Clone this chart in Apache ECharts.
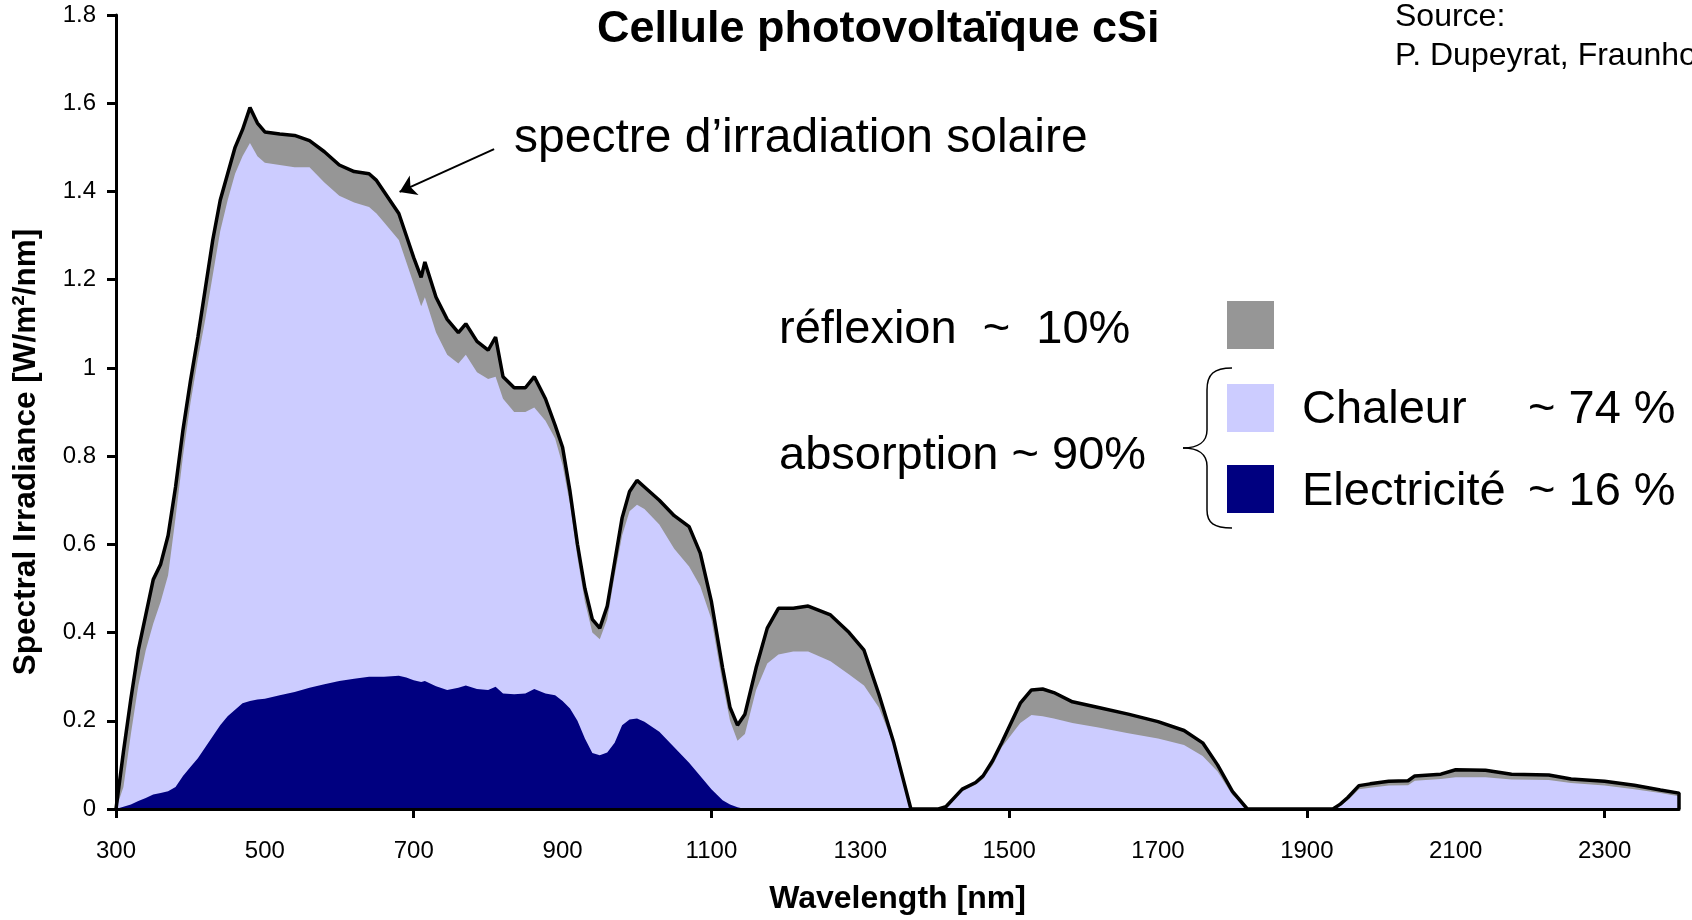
<!DOCTYPE html>
<html>
<head>
<meta charset="utf-8">
<script src="https://cdn.jsdelivr.net/npm/echarts@6/dist/echarts.min.js"></script>
<style>
  html, body { margin: 0; padding: 0; background: #fff; }
  #main { width: 1692px; height: 920px; }
</style>
</head>
<body>
<div id="main"></div>
<script>
// wavelength [nm] and irradiance values [W/m²/nm]
const wavelength = [
  300, 310, 320, 330, 340, 350, 360, 370, 380, 390, 400, 410, 420, 430, 440, 450, 460, 470, 480, 490, 500,
  520, 540, 560, 580, 600, 620, 640,
  650, 660, 680, 690, 700, 710, 715,
  730, 745, 760, 770, 785, 800, 810, 820, 835, 850, 862, 877, 890,
  900, 910, 920, 930, 940, 950, 960, 970, 980, 990, 1000,
  1010, 1030, 1050, 1070, 1085, 1100, 1115, 1125, 1135, 1145,
  1160, 1175, 1190, 1210, 1230, 1260, 1285, 1305, 1325, 1345, 1368,
  1405, 1415, 1437, 1455, 1465, 1478, 1490, 1515, 1530, 1545, 1560, 1585, 1620, 1660, 1700,
  1735, 1760, 1780, 1800, 1820,
  1935, 1945, 1955, 1970, 1985, 2010, 2036, 2045, 2080, 2100, 2140, 2175, 2225, 2255, 2300, 2340, 2375, 2400, 2400
];
// full solar spectrum (black outline)
const solarTotal = [
  0, 0.13, 0.25, 0.36, 0.44, 0.52, 0.555, 0.62, 0.73, 0.86, 0.97, 1.07, 1.18, 1.29, 1.38, 1.44, 1.50, 1.54, 1.59, 1.555, 1.535,
  1.53, 1.527, 1.515, 1.49, 1.46, 1.445, 1.44,
  1.425, 1.40, 1.35, 1.30, 1.25, 1.205, 1.24,
  1.16, 1.11, 1.08, 1.10, 1.06, 1.04, 1.07, 0.98, 0.955, 0.955, 0.98, 0.93, 0.87,
  0.82, 0.72, 0.60, 0.50, 0.43, 0.41, 0.46, 0.56, 0.66, 0.72, 0.745,
  0.73, 0.70, 0.665, 0.64, 0.58, 0.47, 0.32, 0.23, 0.19, 0.215,
  0.32, 0.41, 0.455, 0.455, 0.46, 0.44, 0.40, 0.36, 0.26, 0.15, 0,
  0, 0.005, 0.045, 0.06, 0.075, 0.11, 0.15, 0.24, 0.27, 0.272, 0.264, 0.243, 0.23, 0.215, 0.198,
  0.178, 0.15, 0.10, 0.04, 0,
  0, 0.011, 0.026, 0.053, 0.057, 0.063, 0.064, 0.075, 0.079, 0.089, 0.088, 0.079, 0.077, 0.068, 0.063, 0.054, 0.043, 0.036, 0
];
// absorbed part (top of lavender = chaleur + electricité)
const absorbed = [
  0, 0.05, 0.17, 0.28, 0.36, 0.42, 0.47, 0.53, 0.66, 0.80, 0.92, 1.02, 1.11, 1.21, 1.31, 1.38, 1.44, 1.48, 1.51, 1.48, 1.465,
  1.46, 1.455, 1.455, 1.42, 1.39, 1.375, 1.365,
  1.35, 1.33, 1.29, 1.24, 1.19, 1.14, 1.16,
  1.08, 1.03, 1.01, 1.03, 0.99, 0.975, 0.98, 0.93, 0.90, 0.90, 0.91, 0.88, 0.84,
  0.78, 0.69, 0.57, 0.47, 0.40, 0.385, 0.43, 0.53, 0.62, 0.675, 0.69,
  0.68, 0.645, 0.59, 0.55, 0.505, 0.43, 0.285, 0.20, 0.155, 0.17,
  0.27, 0.33, 0.35, 0.357, 0.357, 0.335, 0.305, 0.28, 0.23, 0.145, 0,
  0, 0.004, 0.04, 0.055, 0.068, 0.10, 0.14, 0.195, 0.213, 0.21, 0.205, 0.195, 0.185, 0.172, 0.16,
  0.145, 0.12, 0.085, 0.032, 0,
  0, 0.008, 0.02, 0.045, 0.048, 0.053, 0.054, 0.064, 0.068, 0.072, 0.072, 0.067, 0.066, 0.059, 0.053, 0.045, 0.036, 0.029, 0
];
// electricity (navy)
const electricity = [
  0, 0.005, 0.01, 0.018, 0.025, 0.033, 0.036, 0.04, 0.05, 0.075, 0.095, 0.115, 0.14, 0.165, 0.19, 0.21, 0.225, 0.24, 0.245, 0.248, 0.25,
  0.258, 0.265, 0.275, 0.283, 0.29, 0.295, 0.30,
  0.30, 0.30, 0.302, 0.298, 0.292, 0.288, 0.29,
  0.278, 0.27, 0.275, 0.28, 0.272, 0.27, 0.277, 0.262, 0.26, 0.262, 0.272, 0.262, 0.258,
  0.245, 0.228, 0.20, 0.16, 0.127, 0.122, 0.128, 0.15, 0.19, 0.203, 0.205,
  0.198, 0.175, 0.14, 0.105, 0.075, 0.045, 0.02, 0.01, 0.004, 0,
  0, 0, 0, 0, 0, 0, 0, 0, 0, 0, 0,
  0, 0, 0, 0, 0, 0, 0, 0, 0, 0, 0, 0, 0, 0, 0,
  0, 0, 0, 0, 0,
  0, 0, 0, 0, 0, 0, 0, 0, 0, 0, 0, 0, 0, 0, 0, 0, 0, 0, 0
];
const xLabelValues = [300, 500, 700, 900, 1100, 1300, 1500, 1700, 1900, 2100, 2300];
const xTickValues = [300, 700, 1100, 1500, 1900, 2300];
// arrow of the "spectre d'irradiation solaire" note, in data units
const arrowFrom = [808, 1.496];
const arrowTo = [681, 1.399];

const FONT = 'Liberation Sans, Arial, Helvetica, sans-serif';

const pairs = vals => wavelength.map((w, i) => [w, vals[i]]);

const chart = echarts.init(document.getElementById('main'));

const noteText = (text, x, y, size) => ({
  type: 'text', x: x, y: y, silent: true,
  style: { text: text, fontSize: size, fontFamily: FONT, fill: '#000', verticalAlign: 'middle' }
});

// curly brace in front of Chaleur / Electricité
const braceStyle = { fill: null, stroke: '#000', lineWidth: 1.5 };
const brace = [
  { type: 'bezierCurve', shape: { x1: 1232, y1: 368, cpx1: 1214, cpy1: 368, cpx2: 1207, cpy2: 374, x2: 1207, y2: 390 }, style: braceStyle },
  { type: 'line', shape: { x1: 1207, y1: 390, x2: 1207, y2: 430 }, style: braceStyle },
  { type: 'bezierCurve', shape: { x1: 1207, y1: 430, cpx1: 1207, cpy1: 442, cpx2: 1198, cpy2: 448, x2: 1183, y2: 448 }, style: braceStyle },
  { type: 'bezierCurve', shape: { x1: 1183, y1: 448, cpx1: 1198, cpy1: 448, cpx2: 1207, cpy2: 454, x2: 1207, y2: 466 }, style: braceStyle },
  { type: 'line', shape: { x1: 1207, y1: 466, x2: 1207, y2: 510 }, style: braceStyle },
  { type: 'bezierCurve', shape: { x1: 1207, y1: 510, cpx1: 1207, cpy1: 523, cpx2: 1214, cpy2: 528, x2: 1232, y2: 528 }, style: braceStyle }
];

const option = {
  animation: false,
  backgroundColor: '#fff',
  title: {
    text: 'Cellule photovoltaïque cSi',
    left: 597, top: 7, padding: 0,
    textStyle: { fontSize: 45, fontWeight: 'bold', fontFamily: FONT, color: '#000' }
  },
  grid: { left: 116, right: 13, top: 15, bottom: 110 },
  xAxis: {
    type: 'value', min: 300, max: 2400, z: 5,
    name: 'Wavelength [nm]', nameLocation: 'middle', nameGap: 74,
    nameTextStyle: { fontSize: 32, fontWeight: 'bold', fontFamily: FONT, color: '#000' },
    axisLine: { lineStyle: { color: '#000', width: 3 } },
    axisTick: { customValues: xTickValues, length: 9, lineStyle: { color: '#000', width: 3 } },
    axisLabel: {
      customValues: xLabelValues, fontSize: 24, fontFamily: FONT, color: '#000', margin: 30,
      formatter: v => String(v)
    },
    splitLine: { show: false }
  },
  yAxis: {
    type: 'value', min: 0, max: 1.8, interval: 0.2, z: 5,
    name: 'Spectral Irradiance [W/m²/nm]', nameLocation: 'middle', nameGap: 74,
    nameTextStyle: { fontSize: 31.5, fontWeight: 'bold', fontFamily: FONT, color: '#000', padding: [0, 80, 0, 0] },
    axisLine: { show: true, lineStyle: { color: '#000', width: 3 } },
    axisTick: { show: true, length: 9, lineStyle: { color: '#000', width: 3 } },
    axisLabel: { fontSize: 24, fontFamily: FONT, color: '#000', margin: 20 },
    splitLine: { show: false }
  },
  series: [
    {
      name: 'réflexion', type: 'line', data: pairs(solarTotal), showSymbol: false, silent: true,
      lineStyle: { width: 0 }, areaStyle: { color: '#969696', opacity: 1 }
    },
    {
      name: 'Chaleur', type: 'line', data: pairs(absorbed), showSymbol: false, silent: true,
      lineStyle: { width: 0 }, areaStyle: { color: '#ccccff', opacity: 1 }
    },
    {
      name: 'Electricité', type: 'line', data: pairs(electricity), showSymbol: false, silent: true,
      lineStyle: { width: 0 }, areaStyle: { color: '#000080', opacity: 1 }
    },
    {
      name: 'spectre', type: 'line', data: pairs(solarTotal), showSymbol: false, silent: true,
      lineStyle: { color: '#000', width: 3.5 },
      markLine: {
        silent: true, symbol: ['none', 'arrow'], symbolSize: 16,
        label: { show: false },
        lineStyle: { color: '#000', width: 2, type: 'solid' },
        data: [[{ coord: arrowFrom }, { coord: arrowTo }]]
      }
    }
  ],
  graphic: [
    noteText('spectre d’irradiation solaire', 514, 139, 48),
    noteText('réflexion  ~  10%', 779, 330, 47),
    noteText('absorption ~ 90%', 779, 456, 47),
    { type: 'rect', shape: { x: 1227, y: 301, width: 47, height: 48 }, style: { fill: '#969696' } },
    { type: 'rect', shape: { x: 1227, y: 384, width: 47, height: 48 }, style: { fill: '#ccccff' } },
    { type: 'rect', shape: { x: 1227, y: 465, width: 47, height: 48 }, style: { fill: '#000080' } },
    noteText('Chaleur', 1302, 410, 47),
    noteText('~ 74 %', 1528, 410, 47),
    noteText('Electricité', 1302, 492, 47),
    noteText('~ 16 %', 1528, 492, 47),
    noteText('Source:', 1395, 17, 32),
    noteText('P. Dupeyrat, Fraunhofer ISE', 1395, 56, 32)
  ].concat(brace)
};

chart.setOption(option);
window.addEventListener('resize', () => chart.resize());
</script>
</body>
</html>
